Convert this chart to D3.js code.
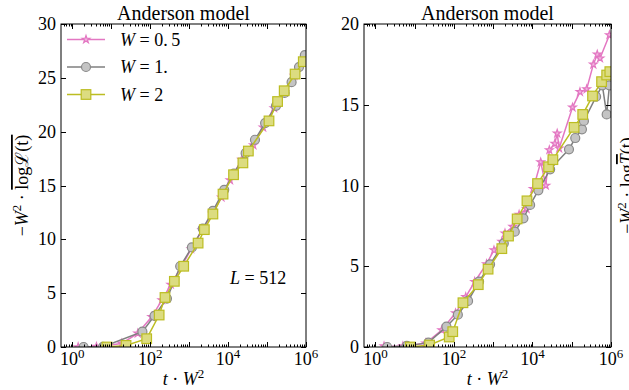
<!DOCTYPE html>
<html>
<head>
<meta charset="utf-8">
<script src="https://cdn.jsdelivr.net/npm/d3@7"></script>
<style>
  body { margin: 0; background: #fff; }
  text { font-family: "Liberation Serif", serif; fill: #000; }
</style>
</head>
<body>
<script>
// axis values
var xMinExp = -0.29, xMaxExp = 6;
var xTickExps = [0, 2, 4, 6];
var leftYTicks = [0, 5, 10, 15, 20, 25, 30];
var rightYTicks = [0, 5, 10, 15, 20];
var seriesLabels = ["0.\u20095", "1.", "2"];
var panelTitle = "Anderson model";

// left panel: log10(t W^2) and -W^2 log L
var leftPinkLogX = [0.15, 0.62, 1.27, 1.68, 2.04, 2.30, 2.53, 2.80, 3.05, 3.33, 3.60, 3.83, 4.05, 4.35, 4.65, 4.90, 5.18, 5.45, 5.70, 5.95];
var leftPinkY    = [0.00, 0.03, 0.33, 1.27, 2.80, 4.36, 5.80, 7.45, 9.10, 10.86, 12.40, 13.90, 15.50, 17.40, 18.75, 20.40, 22.20, 23.70, 25.20, 26.70];
var leftGrayLogX = [0.29, 0.79, 1.80, 2.11, 2.43, 2.77, 3.07, 3.35, 3.61, 3.90, 4.15, 4.45, 4.69, 4.95, 5.23, 5.45, 5.63, 5.82, 5.97];
var leftGrayY    = [0.00, 0.02, 1.42, 2.90, 4.50, 7.50, 9.25, 11.00, 12.65, 14.60, 16.10, 18.00, 19.25, 20.80, 22.40, 23.60, 24.60, 26.00, 27.10];
var leftOliveLogX = [0.89, 1.38, 1.91, 2.23, 2.38, 2.62, 2.86, 3.23, 3.39, 3.61, 3.87, 4.14, 4.38, 4.52, 5.05, 5.27, 5.44, 5.72, 5.93];
var leftOliveY    = [0.00, 0.15, 0.77, 2.97, 4.60, 6.10, 7.50, 9.65, 10.90, 12.35, 14.20, 16.00, 17.10, 18.20, 21.00, 22.80, 23.80, 25.35, 26.50];

// right panel: log10(t W^2) and -W^2 log T
var rightPinkLogX = [0.22, 0.70, 1.28, 1.69, 2.04, 2.30, 2.53, 2.83, 3.02, 3.22, 3.30, 3.50, 3.66, 3.85, 4.02, 4.21, 4.34, 4.43, 4.57, 4.63, 4.68, 5.02, 5.21, 5.38, 5.55, 5.65, 5.72, 5.96];
var rightPinkY    = [0.05, 0.05, 0.23, 1.05, 2.10, 3.10, 4.04, 5.14, 6.00, 6.52, 7.04, 7.45, 8.20, 8.55, 9.80, 11.45, 10.00, 12.20, 12.60, 13.23, 12.30, 14.84, 15.80, 15.97, 17.50, 18.12, 17.88, 19.32];
var rightGrayLogX = [0.30, 0.80, 1.35, 1.81, 2.10, 2.36, 2.64, 2.92, 3.27, 3.55, 3.77, 3.94, 4.15, 4.45, 4.93, 5.09, 5.26, 5.31, 5.62, 5.78, 5.89, 5.96];
var rightGrayY    = [0.00, 0.07, 0.27, 1.26, 2.00, 2.85, 4.05, 5.12, 6.42, 7.14, 7.97, 8.80, 9.70, 11.00, 12.24, 12.94, 13.48, 14.00, 15.50, 16.20, 14.40, 16.20];
var rightOliveLogX = [0.89, 1.38, 1.88, 1.97, 2.23, 2.62, 2.87, 3.22, 3.39, 3.61, 3.86, 4.13, 4.41, 4.52, 5.06, 5.28, 5.53, 5.76, 5.89, 5.97];
var rightOliveY    = [0.00, 0.12, 0.62, 0.95, 2.74, 3.86, 4.82, 6.09, 6.87, 7.93, 9.05, 10.12, 11.16, 11.60, 13.60, 14.40, 15.54, 16.43, 16.84, 17.05];

var styles = [
  { line: "#e377c2", fill: "#f2b6e0", stroke: "#e377c2", shape: "star" },
  { line: "#7f7f7f", fill: "#c4c4c4", stroke: "#8a8a8a", shape: "circle" },
  { line: "#bcbd22", fill: "#dcdc80", stroke: "#bcbd22", shape: "square" }
];

var svg = d3.select("body").append("svg")
    .attr("width", 629).attr("height", 390);

var top0 = 24, bottom0 = 347;

function zip(xs, ys) {
  return xs.map(function(e, i) { return { x: Math.pow(10, e), y: ys[i] }; });
}

function marker(sel, st) {
  if (st.shape === "circle") {
    sel.append("circle").attr("r", 4.5);
  } else if (st.shape === "square") {
    sel.append("rect").attr("x", -4.8).attr("y", -4.8).attr("width", 9.6).attr("height", 9.6);
  } else {
    sel.append("path").attr("d", d3.symbol(d3.symbolStar, 18)());
  }
  sel.selectAll("*").attr("fill", st.fill).attr("stroke", st.stroke).attr("stroke-width", 1.2);
}

function panel(id, x0, x1, yMax, yTicks, series) {
  var x = d3.scaleLog().domain([Math.pow(10, xMinExp), Math.pow(10, xMaxExp)]).range([x0, x1]);
  var y = d3.scaleLinear().domain([0, yMax]).range([bottom0, top0]);
  var g = svg.append("g");

  g.append("clipPath").attr("id", id).append("rect")
    .attr("x", x0).attr("y", top0).attr("width", x1 - x0).attr("height", bottom0 - top0);

  var plot = g.append("g").attr("clip-path", "url(#" + id + ")");
  var line = d3.line().x(function(d) { return x(d.x); }).y(function(d) { return y(d.y); });

  series.forEach(function(s, i) {
    plot.append("path").attr("d", line(s)).attr("fill", "none")
      .attr("stroke", styles[i].line).attr("stroke-width", 1.5);
    s.forEach(function(d) {
      var m = plot.append("g").attr("transform", "translate(" + x(d.x) + "," + y(d.y) + ")");
      marker(m, styles[i]);
    });
  });

  // ticks, inward on all sides
  var ticks = g.append("g").attr("stroke", "#000").attr("stroke-width", 1);
  for (var e = -1; e <= 6; e++) {
    for (var k = 1; k <= 9; k++) {
      var v = k * Math.pow(10, e);
      if (v < x.domain()[0] || v > x.domain()[1]) continue;
      var len = k === 1 ? 5 : 2.5;
      var px = Math.round(x(v)) + 0.5;
      ticks.append("line").attr("x1", px).attr("x2", px).attr("y1", bottom0).attr("y2", bottom0 - len);
      ticks.append("line").attr("x1", px).attr("x2", px).attr("y1", top0).attr("y2", top0 + len);
    }
  }
  yTicks.forEach(function(t) {
    var py = Math.round(y(t)) + 0.5;
    ticks.append("line").attr("x1", x0).attr("x2", x0 + 5).attr("y1", py).attr("y2", py);
    ticks.append("line").attr("x1", x1).attr("x2", x1 - 5).attr("y1", py).attr("y2", py);
    g.append("text").attr("x", x0 - 5).attr("y", y(t) + 6).attr("text-anchor", "end")
      .style("font-size", "18px").text(t);
  });
  xTickExps.forEach(function(e) {
    var t = g.append("text").attr("x", x(Math.pow(10, e))).attr("y", 365)
      .attr("text-anchor", "middle").style("font-size", "18px");
    t.append("tspan").text("10");
    t.append("tspan").attr("dy", -7).style("font-size", "13px").text(e);
  });

  g.append("rect").attr("x", x0).attr("y", top0).attr("width", x1 - x0).attr("height", bottom0 - top0)
    .attr("fill", "none").attr("stroke", "#000").attr("stroke-width", 1);

  g.append("text").attr("x", (x0 + x1) / 2).attr("y", 20).attr("text-anchor", "middle")
    .style("font-size", "20px").text(panelTitle);

  var xl = g.append("text").attr("x", (x0 + x1) / 2).attr("y", 385).attr("text-anchor", "middle")
    .style("font-size", "18px");
  xl.append("tspan").style("font-style", "italic").text("t");
  xl.append("tspan").text(" \u00b7 ");
  xl.append("tspan").style("font-style", "italic").text("W");
  xl.append("tspan").attr("dy", -7).style("font-size", "13px").text("2");

  return { x: x, y: y, g: g };
}

var left = panel("clipL", 61, 306, 30, leftYTicks,
  [zip(leftPinkLogX, leftPinkY), zip(leftGrayLogX, leftGrayY), zip(leftOliveLogX, leftOliveY)]);
var right = panel("clipR", 364, 611, 20, rightYTicks,
  [zip(rightPinkLogX, rightPinkY), zip(rightGrayLogX, rightGrayY), zip(rightOliveLogX, rightOliveY)]);

// legend
seriesLabels.forEach(function(lab, i) {
  var ly = 39.5 + i * 27.5;
  var lg = svg.append("g");
  lg.append("line").attr("x1", 67).attr("x2", 105).attr("y1", ly).attr("y2", ly)
    .attr("stroke", styles[i].line).attr("stroke-width", 1.5);
  marker(lg.append("g").attr("transform", "translate(86," + ly + ")"), styles[i]);
  var t = lg.append("text").attr("x", 120).attr("y", ly + 6).style("font-size", "18px");
  t.append("tspan").style("font-style", "italic").text("W");
  t.append("tspan").text(" = " + lab);
});

// L = 512
var la = svg.append("text").attr("x", 230).attr("y", 284).style("font-size", "18px");
la.append("tspan").style("font-style", "italic").text("L");
la.append("tspan").text(" = 512");

// y labels (the right one is cut by the page edge, as in the original)
function yLabel(px, sym, overAll) {
  var t = svg.append("text").attr("transform", "translate(" + px + ",185.5) rotate(-90)")
    .attr("text-anchor", "middle").style("font-size", "18px");
  t.append("tspan").text("\u2212");
  t.append("tspan").style("font-style", "italic").text("W");
  t.append("tspan").attr("dy", -7).style("font-size", "13px").text("2");
  t.append("tspan").attr("dy", 7).text(" \u00b7 ");
  if (overAll) {
    t.append("tspan").style("text-decoration", "overline").text("log" + sym + "(t)");
  } else {
    t.append("tspan").text("log");
    t.append("tspan").style("text-decoration", "overline").style("font-style", "italic").text(sym);
    t.append("tspan").text("(t)");
  }
}
yLabel(28, "\u2112", true);
yLabel(633, "T", false);
</script>
</body>
</html>
